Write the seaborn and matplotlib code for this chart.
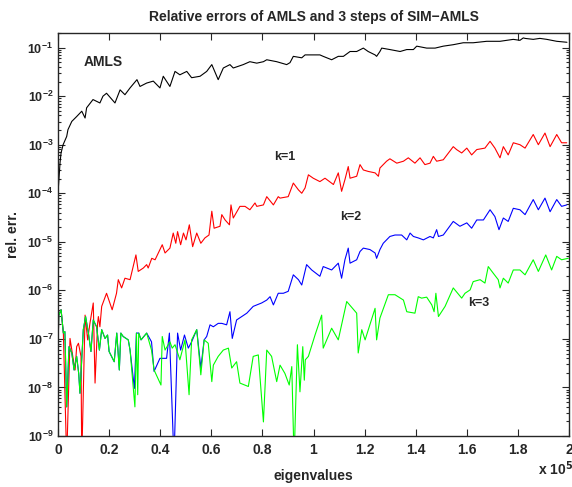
import numpy as np
import pandas as pd
import matplotlib
matplotlib.use("Agg")
import matplotlib.pyplot as plt
import seaborn as sns

# ── Datos (x en unidades de 1e5, y como log10 del error) ──
amls_x = [0.000, 0.008, 0.012, 0.020, 0.034, 0.039, 0.054, 0.073, 0.093, 0.106,
          0.112, 0.137, 0.164, 0.176, 0.190, 0.223, 0.243, 0.262, 0.282, 0.309,
          0.321, 0.347, 0.373, 0.399, 0.412, 0.438, 0.458, 0.477, 0.504, 0.523,
          0.556, 0.582, 0.602, 0.627, 0.647, 0.673, 0.686, 0.725, 0.751, 0.778,
          0.804, 0.817, 0.856, 0.895, 0.908, 0.921, 0.954, 0.967, 1.025, 1.038,
          1.071, 1.097, 1.117, 1.143, 1.169, 1.195, 1.214, 1.241, 1.247, 1.260,
          1.267, 1.299, 1.339, 1.365, 1.391, 1.404, 1.443, 1.476, 1.508, 1.547,
          1.586, 1.625, 1.678, 1.730, 1.782, 1.808, 1.821, 1.828, 1.860, 1.886,
          1.913, 1.952, 1.992]
amls_log = [-4.00, -3.37, -3.17, -3.00, -2.83, -2.69, -2.52, -2.42, -2.31, -2.45,
            -2.24, -2.07, -2.14, -2.00, -1.94, -2.14, -1.87, -1.97, -1.83, -1.66,
            -1.80, -1.73, -1.69, -1.83, -1.59, -1.80, -1.49, -1.56, -1.49, -1.62,
            -1.59, -1.49, -1.35, -1.66, -1.42, -1.35, -1.42, -1.35, -1.29, -1.32,
            -1.29, -1.25, -1.29, -1.35, -1.31, -1.18, -1.21, -1.15, -1.15, -1.18,
            -1.25, -1.18, -1.18, -1.08, -1.08, -1.01, -1.08, -1.15, -1.18, -1.08,
            -1.01, -1.04, -1.08, -1.04, -1.04, -0.97, -1.01, -1.01, -0.97, -0.94,
            -0.90, -0.90, -0.87, -0.87, -0.83, -0.85, -0.80, -0.81, -0.83, -0.81,
            -0.83, -0.87, -0.89]

k1_x = [0.000, 0.003, 0.012, 0.021, 0.034, 0.047, 0.060, 0.067, 0.073, 0.080,
        0.090, 0.093, 0.106, 0.116, 0.125, 0.138, 0.145, 0.155, 0.158, 0.164,
        0.171, 0.190, 0.203, 0.212, 0.229, 0.236, 0.249, 0.262, 0.282, 0.305,
        0.314, 0.334, 0.347, 0.353, 0.367, 0.380, 0.399, 0.408, 0.419, 0.438,
        0.451, 0.461, 0.468, 0.480, 0.491, 0.501, 0.514, 0.527, 0.543, 0.559,
        0.575, 0.591, 0.602, 0.611, 0.634, 0.641, 0.654, 0.671, 0.677, 0.686,
        0.712, 0.732, 0.751, 0.771, 0.778, 0.804, 0.817, 0.843, 0.862, 0.869,
        0.901, 0.921, 0.941, 0.954, 0.967, 0.980, 0.999, 1.025, 1.045, 1.078,
        1.097, 1.110, 1.123, 1.136, 1.143, 1.169, 1.182, 1.195, 1.214, 1.241,
        1.254, 1.260, 1.286, 1.299, 1.326, 1.352, 1.371, 1.397, 1.417, 1.436,
        1.456, 1.469, 1.482, 1.508, 1.547, 1.560, 1.580, 1.600, 1.619, 1.639,
        1.671, 1.691, 1.710, 1.730, 1.743, 1.762, 1.782, 1.808, 1.828, 1.860,
        1.880, 1.906, 1.926, 1.952, 1.971, 1.991]
k1_log = [-7.23, -6.51, -6.40, -6.88, -9.50, -6.99, -7.43, -7.64, -7.16, -7.09,
          -7.36, -9.50, -6.51, -7.02, -6.68, -6.26, -7.91, -6.68, -6.54, -6.75,
          -6.33, -6.06, -6.26, -6.40, -6.06, -5.78, -5.95, -5.75, -5.78, -5.27,
          -5.61, -5.54, -5.47, -5.54, -5.34, -5.37, -5.16, -5.06, -5.23, -5.13,
          -4.82, -5.03, -4.79, -5.06, -4.82, -4.96, -4.65, -5.10, -4.82, -5.03,
          -4.92, -4.86, -4.37, -4.72, -4.68, -4.44, -4.55, -4.65, -4.24, -4.51,
          -4.27, -4.27, -4.34, -4.20, -4.27, -4.24, -4.07, -4.24, -4.07, -4.10,
          -4.07, -3.79, -3.93, -4.00, -3.89, -3.62, -3.69, -3.76, -3.69, -3.82,
          -3.58, -3.96, -3.72, -3.45, -3.69, -3.65, -3.41, -3.52, -3.55, -3.58,
          -3.65, -3.48, -3.34, -3.29, -3.38, -3.34, -3.27, -3.38, -3.27, -3.41,
          -3.38, -3.24, -3.34, -3.31, -3.04, -3.10, -3.17, -3.07, -3.21, -3.10,
          -3.07, -2.93, -3.07, -3.27, -3.04, -3.21, -2.96, -3.00, -3.07, -2.79,
          -3.00, -2.76, -3.04, -2.79, -2.96, -2.96]

k2_x = [0.000, 0.003, 0.012, 0.021, 0.027, 0.034, 0.043, 0.054, 0.063, 0.073,
        0.081, 0.086, 0.099, 0.108, 0.119, 0.129, 0.138, 0.151, 0.162, 0.171,
        0.184, 0.194, 0.200, 0.220, 0.230, 0.240, 0.246, 0.255, 0.275, 0.282,
        0.299, 0.307, 0.316, 0.325, 0.347, 0.366, 0.376, 0.399, 0.425, 0.436,
        0.454, 0.468, 0.480, 0.495, 0.510, 0.523, 0.543, 0.559, 0.572, 0.582,
        0.595, 0.608, 0.627, 0.641, 0.660, 0.673, 0.682, 0.699, 0.719, 0.739,
        0.764, 0.778, 0.797, 0.817, 0.830, 0.843, 0.862, 0.882, 0.901, 0.921,
        0.941, 0.954, 0.973, 0.993, 1.025, 1.038, 1.071, 1.097, 1.110, 1.123,
        1.136, 1.143, 1.169, 1.182, 1.195, 1.221, 1.241, 1.247, 1.260, 1.273,
        1.299, 1.319, 1.345, 1.365, 1.378, 1.391, 1.410, 1.430, 1.456, 1.469,
        1.482, 1.489, 1.508, 1.547, 1.573, 1.600, 1.619, 1.639, 1.665, 1.691,
        1.710, 1.726, 1.743, 1.762, 1.782, 1.808, 1.828, 1.860, 1.880, 1.906,
        1.926, 1.952, 1.971, 1.991]
k2_log = [-7.23, -6.51, -6.40, -6.88, -6.85, -8.40, -7.16, -7.29, -7.64, -7.36,
          -7.71, -8.12, -6.81, -6.54, -6.88, -7.26, -6.61, -6.75, -7.23, -6.81,
          -6.99, -6.92, -7.26, -7.47, -6.88, -7.64, -6.88, -6.95, -7.02, -7.23,
          -8.02, -6.88, -6.88, -7.02, -6.88, -7.06, -7.67, -7.40, -7.40, -6.88,
          -9.50, -6.88, -7.23, -6.92, -7.19, -7.06, -6.81, -7.60, -7.02, -6.95,
          -6.71, -6.75, -6.68, -6.68, -6.71, -6.44, -6.99, -6.61, -6.54, -6.47,
          -6.33, -6.30, -6.26, -6.20, -6.13, -6.30, -6.06, -6.06, -6.02, -5.68,
          -5.78, -5.89, -5.47, -5.58, -5.71, -5.51, -5.58, -5.44, -5.75, -5.37,
          -5.13, -5.44, -5.37, -5.20, -5.13, -5.16, -5.23, -5.34, -5.16, -5.03,
          -4.89, -4.86, -4.86, -4.96, -4.82, -4.89, -4.92, -4.96, -4.89, -4.92,
          -4.75, -4.89, -4.86, -4.58, -4.68, -4.61, -4.72, -4.55, -4.55, -4.34,
          -4.48, -4.75, -4.51, -4.58, -4.31, -4.34, -4.44, -4.13, -4.34, -4.10,
          -4.38, -4.13, -4.27, -4.24]

k3_x = [0.000, 0.003, 0.012, 0.021, 0.027, 0.034, 0.043, 0.054, 0.063, 0.073,
        0.081, 0.086, 0.099, 0.108, 0.119, 0.129, 0.138, 0.151, 0.162, 0.171,
        0.184, 0.194, 0.200, 0.220, 0.230, 0.240, 0.246, 0.255, 0.275, 0.282,
        0.301, 0.307, 0.312, 0.316, 0.325, 0.347, 0.366, 0.376, 0.403, 0.408,
        0.419, 0.438, 0.447, 0.458, 0.477, 0.497, 0.513, 0.523, 0.543, 0.559,
        0.572, 0.588, 0.602, 0.608, 0.627, 0.647, 0.667, 0.680, 0.699, 0.712,
        0.745, 0.764, 0.784, 0.804, 0.817, 0.836, 0.856, 0.869, 0.888, 0.905,
        0.915, 0.924, 0.937, 0.947, 0.958, 0.964, 0.968, 0.980, 1.006, 1.032,
        1.038, 1.071, 1.097, 1.130, 1.169, 1.175, 1.189, 1.202, 1.241, 1.247,
        1.260, 1.293, 1.319, 1.352, 1.365, 1.397, 1.410, 1.423, 1.443, 1.463,
        1.472, 1.479, 1.489, 1.515, 1.547, 1.580, 1.593, 1.613, 1.625, 1.652,
        1.671, 1.684, 1.704, 1.723, 1.730, 1.743, 1.762, 1.782, 1.808, 1.828,
        1.860, 1.880, 1.909, 1.932, 1.952, 1.971, 1.997]
k3_log = [-7.23, -6.51, -6.40, -6.88, -6.85, -8.40, -7.16, -7.29, -7.64, -7.36,
          -7.71, -8.12, -6.81, -6.54, -6.88, -7.26, -6.61, -6.75, -7.23, -6.81,
          -6.99, -6.92, -7.26, -7.47, -6.88, -7.64, -6.88, -6.95, -7.02, -7.23,
          -8.40, -6.88, -8.15, -6.88, -7.02, -6.88, -7.23, -7.64, -7.95, -6.95,
          -7.23, -7.06, -7.19, -7.12, -7.43, -7.02, -8.15, -7.02, -6.81, -7.74,
          -7.02, -7.09, -7.88, -7.54, -7.36, -7.23, -7.19, -7.60, -7.47, -7.91,
          -7.98, -7.36, -7.33, -8.71, -7.23, -7.36, -7.88, -7.54, -7.71, -7.95,
          -7.57, -9.50, -7.12, -8.09, -7.16, -7.85, -7.43, -7.36, -6.92, -6.51,
          -7.19, -6.78, -7.02, -6.23, -6.47, -7.29, -6.81, -7.02, -6.37, -7.02,
          -6.57, -6.09, -6.09, -6.20, -6.44, -6.47, -6.13, -6.16, -6.14, -6.30,
          -6.44, -6.06, -6.54, -6.33, -5.95, -6.16, -6.06, -5.99, -5.82, -5.78,
          -5.85, -5.51, -5.65, -5.78, -5.95, -5.75, -5.85, -5.58, -5.58, -5.68,
          -5.37, -5.61, -5.27, -5.58, -5.30, -5.37, -5.34]

series = [("AMLS", amls_x, amls_log, "#000000"),
          ("k=1", k1_x, k1_log, "#ff0000"),
          ("k=2", k2_x, k2_log, "#0000ff"),
          ("k=3", k3_x, k3_log, "#00ff00")]

# ── Estilo ────────────────────────────────────────────────────────────────────
sns.set_style("ticks")
plt.rcParams["font.family"] = ["Liberation Sans", "DejaVu Sans"]
plt.rcParams["font.weight"] = "bold"
plt.rcParams["axes.labelweight"] = "bold"
plt.rcParams["axes.titleweight"] = "bold"

fig = plt.figure(figsize=(5.72, 4.87), dpi=100)
ax = fig.add_axes([58 / 572, 51 / 487, 511 / 572, 403 / 487])

for name, xs, logs, color in series:
    df = pd.DataFrame({"x": xs, "err": 10.0 ** np.array(logs)})
    sns.lineplot(data=df, x="x", y="err", color=color, lw=0.8, sort=False,
                 estimator=None, ax=ax)

ax.set_yscale("log")
ax.set_xlim(0, 2)
ax.set_ylim(1e-9, 0.2)
ax.set_yticks([10.0 ** -k for k in range(9, 0, -1)])
ax.set_xticks([0, 0.2, 0.4, 0.6, 0.8, 1, 1.2, 1.4, 1.6, 1.8, 2])
ax.set_xticklabels(["0", "0.2", "0.4", "0.6", "0.8", "1", "1.2", "1.4", "1.6", "1.8", "2"])
ax.tick_params(axis="both", which="both", direction="in", top=True, right=True,
               width=0.8)
ax.tick_params(axis="both", which="major", length=5)
ax.tick_params(axis="y", which="minor", length=2.5)
ax.tick_params(axis="x", labelsize=10, pad=5)
ax.tick_params(axis="y", labelsize=9)
for s in ax.spines.values():
    s.set_linewidth(1.0)

ax.set_title("Relative errors of AMLS and 3 steps of SIM\u2212AMLS", fontsize=10, pad=9)
ax.set_xlabel("eigenvalues", fontsize=10, labelpad=9)
ax.set_ylabel("rel. err.", fontsize=10, labelpad=5)

ax.text(0.939, -0.097, r"x 10$^{5}$", transform=ax.transAxes, fontsize=10,
        ha="left", va="baseline")

# ── Etiquetas de las curvas ──────────────────────────────────────────────────
ax.text(0.177, 10 ** -1.29, "AMLS", fontsize=10, ha="center", va="center")
ax.text(0.886, 10 ** -3.25, "k=1", fontsize=9, ha="center", va="center")
ax.text(1.147, 10 ** -4.48, "k=2", fontsize=9, ha="center", va="center")
ax.text(1.648, 10 ** -6.26, "k=3", fontsize=9, ha="center", va="center")

fig.savefig("out.png", dpi=100)
